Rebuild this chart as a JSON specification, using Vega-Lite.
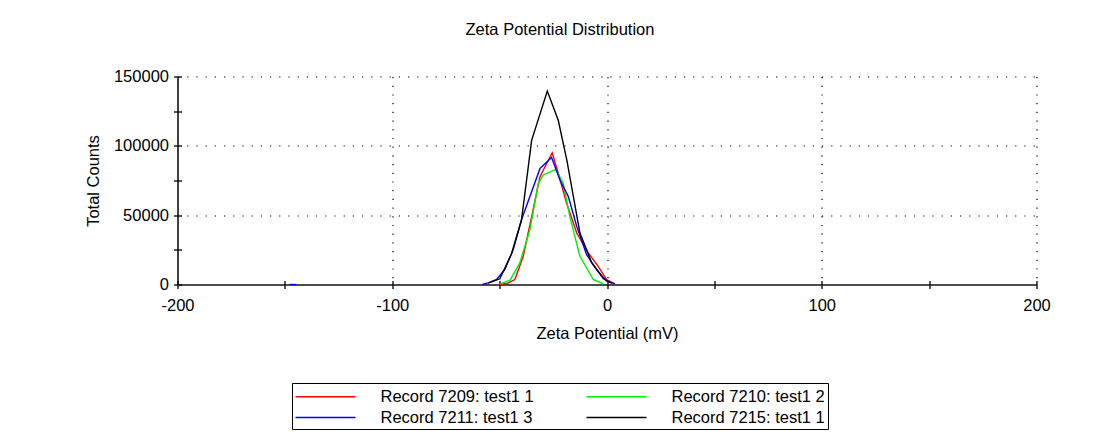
{
  "$schema": "https://vega.github.io/schema/vega-lite/v6.json",
  "width": 859,
  "height": 208,
  "autosize": {"type": "none"},
  "padding": {"left": 177.5, "top": 76.5, "right": 63.5, "bottom": 155.5},
  "background": "white",
  "title": {
    "text": "Zeta Potential Distribution",
    "font": "Liberation Sans",
    "fontSize": 16.5,
    "fontWeight": "normal",
    "color": "#000",
    "anchor": "middle",
    "frame": "group",
    "dx": -47,
    "offset": 30
  },
  "config": {
    "view": {"stroke": null},
    "axis": {
      "labelFont": "Liberation Sans",
      "titleFont": "Liberation Sans",
      "labelFontSize": 16.5,
      "titleFontSize": 16.5,
      "titleFontWeight": "normal",
      "labelColor": "#000",
      "titleColor": "#000",
      "domainColor": "#111",
      "tickColor": "#111",
      "domainWidth": 1.6,
      "tickWidth": 1.4
    },
    "legend": {
      "labelFont": "Liberation Sans",
      "labelFontSize": 16.5,
      "labelColor": "#000"
    }
  },
  "data": {
    "values": [
      {"s": "Record 7209: test1 1", "g": "a", "x": -50.5, "y": 0},
      {"s": "Record 7209: test1 1", "g": "a", "x": -46.5, "y": 800},
      {"s": "Record 7209: test1 1", "g": "a", "x": -42.9, "y": 3600},
      {"s": "Record 7209: test1 1", "g": "a", "x": -39.0, "y": 20300},
      {"s": "Record 7209: test1 1", "g": "a", "x": -35.1, "y": 49000},
      {"s": "Record 7209: test1 1", "g": "a", "x": -31.2, "y": 77700},
      {"s": "Record 7209: test1 1", "g": "a", "x": -28.1, "y": 87300},
      {"s": "Record 7209: test1 1", "g": "a", "x": -25.5, "y": 95000},
      {"s": "Record 7209: test1 1", "g": "a", "x": -22.7, "y": 80200},
      {"s": "Record 7209: test1 1", "g": "a", "x": -18.8, "y": 58600},
      {"s": "Record 7209: test1 1", "g": "a", "x": -14.1, "y": 37100},
      {"s": "Record 7209: test1 1", "g": "a", "x": -8.7, "y": 22700},
      {"s": "Record 7209: test1 1", "g": "a", "x": -4.1, "y": 13100},
      {"s": "Record 7209: test1 1", "g": "a", "x": -0.2, "y": 3600},
      {"s": "Record 7209: test1 1", "g": "a", "x": 3.7, "y": 500},

      {"s": "Record 7210: test1 2", "g": "a", "x": -49.9, "y": 500},
      {"s": "Record 7210: test1 2", "g": "a", "x": -45.2, "y": 3000},
      {"s": "Record 7210: test1 2", "g": "a", "x": -40.6, "y": 15550},
      {"s": "Record 7210: test1 2", "g": "a", "x": -35.9, "y": 39500},
      {"s": "Record 7210: test1 2", "g": "a", "x": -32.0, "y": 73000},
      {"s": "Record 7210: test1 2", "g": "a", "x": -29.7, "y": 79000},
      {"s": "Record 7210: test1 2", "g": "a", "x": -23.8, "y": 83000},
      {"s": "Record 7210: test1 2", "g": "a", "x": -20.4, "y": 73000},
      {"s": "Record 7210: test1 2", "g": "a", "x": -17.3, "y": 49000},
      {"s": "Record 7210: test1 2", "g": "a", "x": -12.6, "y": 20300},
      {"s": "Record 7210: test1 2", "g": "a", "x": -6.4, "y": 3600},
      {"s": "Record 7210: test1 2", "g": "a", "x": -1.7, "y": 500},

      {"s": "Record 7211: test1 3", "g": "b", "x": -147.7, "y": 0},
      {"s": "Record 7211: test1 3", "g": "b", "x": -144.7, "y": 0},
      {"s": "Record 7211: test1 3", "g": "a", "x": -58.0, "y": 0},
      {"s": "Record 7211: test1 3", "g": "a", "x": -55.3, "y": 1200},
      {"s": "Record 7211: test1 3", "g": "a", "x": -51.4, "y": 3600},
      {"s": "Record 7211: test1 3", "g": "a", "x": -47.6, "y": 10800},
      {"s": "Record 7211: test1 3", "g": "a", "x": -43.7, "y": 25100},
      {"s": "Record 7211: test1 3", "g": "a", "x": -39.8, "y": 46650},
      {"s": "Record 7211: test1 3", "g": "a", "x": -35.9, "y": 63400},
      {"s": "Record 7211: test1 3", "g": "a", "x": -31.2, "y": 83700},
      {"s": "Record 7211: test1 3", "g": "a", "x": -25.8, "y": 91600},
      {"s": "Record 7211: test1 3", "g": "a", "x": -21.9, "y": 75400},
      {"s": "Record 7211: test1 3", "g": "a", "x": -18.0, "y": 63400},
      {"s": "Record 7211: test1 3", "g": "a", "x": -14.1, "y": 41900},
      {"s": "Record 7211: test1 3", "g": "a", "x": -9.5, "y": 21500},
      {"s": "Record 7211: test1 3", "g": "a", "x": -4.8, "y": 10800},
      {"s": "Record 7211: test1 3", "g": "a", "x": -0.2, "y": 2400},
      {"s": "Record 7211: test1 3", "g": "a", "x": 3.7, "y": 500},

      {"s": "Record 7215: test1 1", "g": "a", "x": -55.3, "y": 1000},
      {"s": "Record 7215: test1 1", "g": "a", "x": -49.9, "y": 4100},
      {"s": "Record 7215: test1 1", "g": "a", "x": -44.5, "y": 22000},
      {"s": "Record 7215: test1 1", "g": "a", "x": -39.8, "y": 46650},
      {"s": "Record 7215: test1 1", "g": "a", "x": -35.1, "y": 104000},
      {"s": "Record 7215: test1 1", "g": "a", "x": -27.8, "y": 139450},
      {"s": "Record 7215: test1 1", "g": "a", "x": -22.7, "y": 118400},
      {"s": "Record 7215: test1 1", "g": "a", "x": -18.7, "y": 89700},
      {"s": "Record 7215: test1 1", "g": "a", "x": -12.6, "y": 37100},
      {"s": "Record 7215: test1 1", "g": "a", "x": -7.1, "y": 15550},
      {"s": "Record 7215: test1 1", "g": "a", "x": -1.7, "y": 4100},
      {"s": "Record 7215: test1 1", "g": "a", "x": 2.2, "y": 1000}
    ]
  },
  "resolve": {"axis": {"x": "independent", "y": "independent"}},
  "layer": [
    {
      "mark": {"type": "line", "strokeWidth": 1.4},
      "encoding": {
        "x": {
          "field": "x",
          "type": "quantitative",
          "scale": {"domain": [-200, 200], "nice": false, "zero": false},
          "axis": {
            "orient": "bottom",
            "title": "Zeta Potential (mV)",
            "values": [-200, -150, -100, -50, 0, 50, 100, 150, 200],
            "labelExpr": "datum.value % 100 === 0 ? '' + datum.value : ''",
            "labelFlush": false,
            "tickSize": 4,
            "labelPadding": 9,
            "titlePadding": 11,
            "grid": true,
            "gridColor": "#000",
            "gridWidth": 1.2,
            "gridDash": [1.2, 7.5],
            "gridOpacity": {"condition": {"test": "datum.value % 100 === 0 && datum.value > -200", "value": 1}, "value": 0}
          }
        },
        "y": {
          "field": "y",
          "type": "quantitative",
          "scale": {"domain": [0, 150000], "nice": false},
          "axis": {
            "orient": "left",
            "title": "Total Counts",
            "values": [0, 25000, 50000, 75000, 100000, 125000, 150000],
            "labelExpr": "datum.value % 50000 === 0 ? '' + datum.value : ''",
            "labelFlush": false,
            "tickSize": 4,
            "labelPadding": 5,
            "titlePadding": 12,
            "grid": true,
            "gridColor": "#000",
            "gridWidth": 1.2,
            "gridDash": [1.2, 8],
            "gridOpacity": {"condition": {"test": "datum.value % 50000 === 0 && datum.value > 0", "value": 1}, "value": 0}
          }
        },
        "color": {
          "field": "s",
          "type": "nominal",
          "scale": {
            "domain": ["Record 7209: test1 1", "Record 7211: test1 3", "Record 7210: test1 2", "Record 7215: test1 1"],
            "range": ["#ff0000", "#0000ff", "#00ee00", "#000000"]
          },
          "legend": {
            "orient": "none",
            "legendX": 114.5,
            "legendY": 306.5,
            "title": null,
            "columns": 2,
            "symbolType": "M-3,0H3",
            "symbolSize": 400,
            "symbolOffset": 20,
            "symbolStrokeWidth": 1.5,
            "labelOffset": 44,
            "columnPadding": 49,
            "rowPadding": 1,
            "padding": 2.5,
            "strokeColor": "#000",
            "labelLimit": 400
          }
        },
        "detail": {"field": "g", "type": "nominal"}
      }
    },
    {
      "mark": {"type": "line", "strokeOpacity": 0},
      "encoding": {
        "x": {
          "field": "x",
          "type": "quantitative",
          "scale": {"domain": [-200, 200], "nice": false, "zero": false},
          "axis": {
            "orient": "bottom",
            "title": null,
            "offset": -4,
            "domain": false,
            "labels": false,
            "grid": false,
            "tickSize": 4,
            "values": [-200, -150, -100, -50, 0, 50, 100, 150, 200]
          }
        },
        "y": {
          "field": "y",
          "type": "quantitative",
          "scale": {"domain": [0, 150000], "nice": false},
          "axis": {
            "orient": "left",
            "title": null,
            "offset": -4,
            "domain": false,
            "labels": false,
            "grid": false,
            "tickSize": 4,
            "values": [0, 25000, 50000, 75000, 100000, 125000, 150000]
          }
        },
        "detail": {"field": "s", "type": "nominal"}
      }
    }
  ]
}
